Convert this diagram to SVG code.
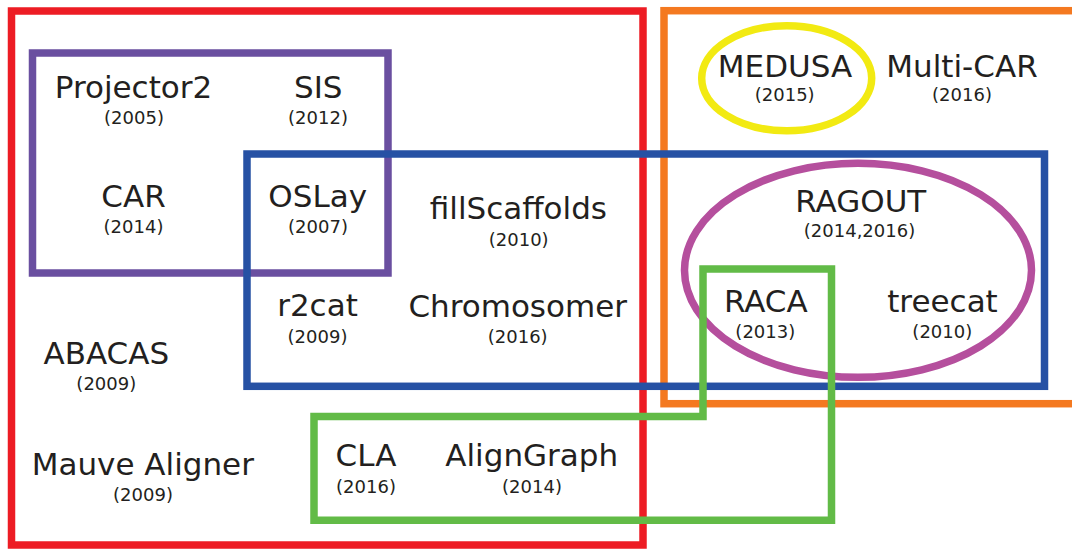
<svg xmlns="http://www.w3.org/2000/svg" width="1072" height="549" viewBox="0 0 1072 549">
  <style>
    .set { fill: none; stroke-width: 7.5; }
    .name { font-family: "DejaVu Sans", Verdana, sans-serif; font-size: 31px; fill: #231f20; text-anchor: middle; }
    .year { font-family: "DejaVu Sans", Verdana, sans-serif; font-size: 18px; fill: #231f20; text-anchor: middle; }
  </style>
  <rect width="1072" height="549" fill="#ffffff"/>

  <!-- set outlines -->
  <g id="sets">
    <rect id="set-red" class="set" x="11.5" y="11" width="631.5" height="534" stroke="#ed1c24"/>
    <rect id="set-orange" class="set" x="664" y="10.7" width="420" height="393" stroke="#f47920"/>
    <rect id="set-purple" class="set" x="32.5" y="53" width="355.5" height="220" stroke="#6a4fa0"/>
    <ellipse id="set-magenta" class="set" cx="858" cy="270.3" rx="173.5" ry="107" stroke="#b54f9d"/>
    <ellipse id="set-yellow" class="set" cx="786.7" cy="78.3" rx="85" ry="52.5" stroke="#f2ea12"/>
    <rect id="set-blue" class="set" x="247" y="154" width="797.5" height="232.3" stroke="#2651a4"/>
    <path id="set-green" class="set" d="M314,416.5 H703 V269 H831.5 V520.2 H314 Z" stroke="#62bb47"/>
  </g>

  <!-- tools -->
  <g id="projector2"><text class="name" x="133.5" y="97.7">Projector2</text><text class="year" x="134" y="123.5">(2005)</text></g>
  <g id="sis"><text class="name" x="318.3" y="97.7">SIS</text><text class="year" x="318" y="123.5">(2012)</text></g>
  <g id="car"><text class="name" x="133.5" y="207.3">CAR</text><text class="year" x="133.5" y="232.5">(2014)</text></g>
  <g id="oslay"><text class="name" x="317.7" y="207.3">OSLay</text><text class="year" x="318" y="232.5">(2007)</text></g>
  <g id="fillscaffolds"><text class="name" x="518.4" y="219.3">fillScaffolds</text><text class="year" x="518.7" y="246">(2010)</text></g>
  <g id="r2cat"><text class="name" x="317.5" y="316.3">r2cat</text><text class="year" x="317.5" y="342.8">(2009)</text></g>
  <g id="chromosomer"><text class="name" x="517.7" y="316.7">Chromosomer</text><text class="year" x="517.7" y="342.8">(2016)</text></g>
  <g id="abacas"><text class="name" x="106.3" y="364">ABACAS</text><text class="year" x="106.3" y="390">(2009)</text></g>
  <g id="mauve"><text class="name" x="142.8" y="475">Mauve Aligner</text><text class="year" x="143" y="501">(2009)</text></g>
  <g id="cla"><text class="name" x="366" y="466">CLA</text><text class="year" x="366" y="492.7">(2016)</text></g>
  <g id="aligngraph"><text class="name" x="531.7" y="466">AlignGraph</text><text class="year" x="532" y="492.7">(2014)</text></g>
  <g id="medusa"><text class="name" x="785" y="76.7">MEDUSA</text><text class="year" x="784.7" y="101">(2015)</text></g>
  <g id="multicar"><text class="name" x="962" y="76.7">Multi-CAR</text><text class="year" x="962" y="101">(2016)</text></g>
  <g id="ragout"><text class="name" x="860.8" y="211.7">RAGOUT</text><text class="year" x="859.5" y="236.7">(2014,2016)</text></g>
  <g id="raca"><text class="name" x="765.8" y="311.7">RACA</text><text class="year" x="765.3" y="338.3">(2013)</text></g>
  <g id="treecat"><text class="name" x="942.5" y="311.7">treecat</text><text class="year" x="942.3" y="338.3">(2010)</text></g>
</svg>
